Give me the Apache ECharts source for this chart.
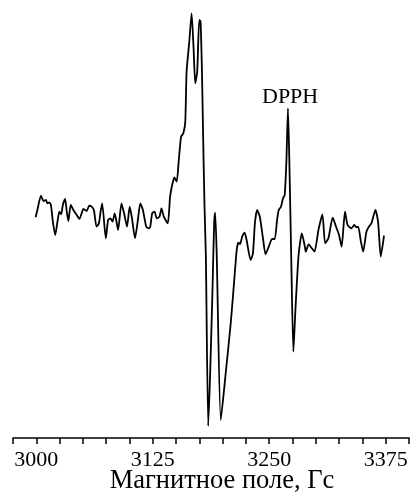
<!DOCTYPE html>
<html><head><meta charset="utf-8">
<script src="https://cdn.jsdelivr.net/npm/echarts@6/dist/echarts.min.js"></script>
<style>html,body{margin:0;padding:0;background:#fff}#c{width:412px;height:493px}</style>
</head><body><div id="c"></div>
<script>
const field = [2999.3,3001.4,3005.0,3007.8,3010.3,3012.0,3013.9,3015.7,3017.8,3020.3,3022.7,3024.8,3026.7,3028.5,3030.9,3032.7,3034.4,3037.0,3039.8,3043.4,3046.2,3048.7,3050.4,3054.1,3056.8,3059.4,3061.8,3064.7,3067.2,3069.0,3070.7,3074.6,3077.1,3079.7,3081.8,3084.2,3087.8,3091.4,3094.2,3097.4,3100.2,3102.7,3105.9,3108.8,3111.6,3114.4,3118.0,3120.8,3122.3,3124.4,3126.9,3129.3,3132.2,3134.4,3136.8,3141.1,3143.6,3145.8,3148.2,3150.7,3152.8,3155.4,3157.8,3159.9,3161.3,3164.2,3166.7,3168.8,3170.6,3172.7,3174.9,3176.3,3177.8,3179.1,3180.5,3182.0,3184.5,3186.6,3189.1,3190.9,3192.0,3193.7,3198.0,3203.3,3208.7,3212.2,3215.1,3216.8,3218.6,3221.0,3223.6,3225.7,3230.0,3232.5,3234.6,3237.0,3239.9,3243.4,3246.0,3249.5,3253.0,3255.9,3258.4,3260.2,3262.6,3264.8,3266.6,3268.4,3270.1,3271.6,3273.7,3275.9,3278.0,3281.5,3285.0,3287.9,3289.3,3292.2,3295.7,3298.6,3302.8,3307.1,3310.0,3313.5,3318.1,3321.7,3324.9,3327.7,3331.3,3334.1,3338.3,3341.2,3343.7,3345.5,3348.4,3350.8,3354.3,3356.9,3359.7,3364.0,3366.8,3369.7,3373.2];
const signal = [-2.3,6,19.3,14,15,11.7,12.7,10,-6.7,-20,-6.7,3.3,0.7,10,16,3.3,-6,10,5,0,-4,1.7,6,4,9.3,8.3,5,-11.7,-8.3,3.3,11.7,-23.3,-5,-3.3,-6.7,1.7,-15,11.7,1.7,-11.7,8.3,-3.3,-23.3,-6.7,11.7,5,-11.7,-13.3,-11.7,1.7,3.3,-3.3,-1.7,6.7,-1.7,-8.3,18.3,30,37.5,33.3,53.3,78.3,81.7,93.3,143.3,173.3,201.7,166.7,131.7,143.3,195,193.3,143.3,76.7,10,-41.7,-211,-158,-75,-8,2.3,-41.7,-205,-158,-108,-68,-35,-27.7,-29,-21.7,-17.7,-25,-45,-38.3,-8.3,5,-1.7,-24,-39.3,-31.7,-24,-24,-5,5,8.3,16.7,20,53.3,106.7,53.3,-46.7,-136.7,-96.7,-40,-18.3,-30,-36.7,-29.3,-33.3,-36.7,-15,0.7,-28.3,-23.3,-2.7,-11.7,-20,-31.7,3.3,-10,-13.3,-10,-12.3,-11.7,-26.7,-36.7,-16.7,-11.7,-8.3,5,-6.7,-41.7,-20.7];
const majorTicks = [3000, 3125, 3250, 3375];
const xName = 'Магнитное поле, Гс';
const annotation = 'DPPH';

const chart = echarts.init(document.getElementById('c'));
const font = '"Liberation Serif", "Times New Roman", serif';
chart.setOption({
  animation: false,
  grid: {left: 13, right: 3, top: 0, bottom: 55, containLabel: false, outerBoundsMode: 'none'},
  xAxis: {
    type: 'value', min: 2975, max: 3400, interval: 25,
    axisLine: {onZero: false, lineStyle: {color: '#000', width: 1.5}},
    axisTick: {inside: false, length: 6, lineStyle: {color: '#000', width: 1.5}},
    splitLine: {show: false},
    axisLabel: {
      margin: 11, color: '#000', fontFamily: font, fontSize: 22,
      showMinLabel: true, showMaxLabel: true, hideOverlap: false,
      formatter: v => majorTicks.includes(v) ? String(v) : ''
    },
    name: xName, nameLocation: 'middle', nameGap: 30, nameMoveOverlap: false,
    nameTextStyle: {color: '#000', fontFamily: font, fontSize: 26.5, padding: [0, 0, 0, 22]}
  },
  yAxis: {type: 'value', min: -223, max: 215, show: false},
  series: [{
    type: 'line', showSymbol: false, smooth: 0.2,
    data: field.map((f, i) => [f, signal[i]]),
    lineStyle: {color: '#000', width: 1.8}
  }],
  graphic: [{
    type: 'text', left: 262, top: 86,
    style: {text: annotation, fill: '#000', font: '22px ' + font}
  }]
});
</script></body></html>
